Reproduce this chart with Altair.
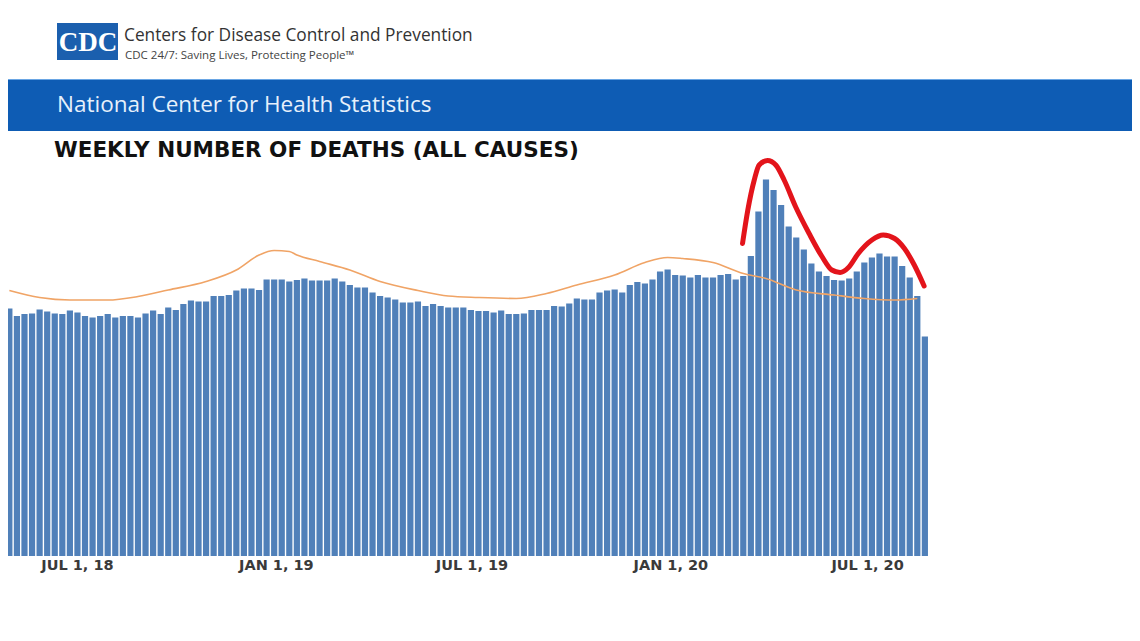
import altair as alt
import pandas as pd
import numpy as np

# ---- data ----
first_week = "2018-04-29"  # week index 0
weekly_deaths = [
    49500, 48000, 48400, 48500, 49300, 48900, 48500, 48400, 49100, 48700,
    48000, 47700, 48000, 48400, 47700, 48000, 48000, 47700, 48500, 49100,
    48400, 49700, 49200, 50400, 51100, 50900, 50900, 52000, 52000, 52200,
    53100, 53500, 53500, 53200, 55300, 55300, 55300, 54900, 55200, 55500,
    55100, 55100, 55100, 55500, 54900, 54200, 53700, 53700, 52700, 52000,
    51700, 51300, 50700, 50700, 50900, 50000, 50400, 50000, 49700, 49700,
    49700, 49200, 49000, 49000, 48700, 49100, 48400, 48400, 48500, 49200,
    49200, 49200, 50000, 49900, 50500, 51500, 51300, 51300, 52700, 53100,
    53300, 52700, 54200, 54800, 54500, 55300, 56900, 57300, 56200, 56100,
    55700, 56200, 55700, 55700, 56200, 56400, 55300, 56000, 60000, 68900,
    75300, 73200, 70200, 65900, 63700, 61300, 58500, 56900, 56000, 55200,
    55100, 55500, 56900, 58700, 59700, 60500, 59900, 59900, 58000, 55700,
    52000, 43900,
]
expected_weeks = [0, 4, 8, 13, 17, 21, 26, 30, 33, 35, 37, 38, 41, 45, 49, 54,
                  58, 62, 67, 71, 75, 80, 84, 87, 89, 93, 97, 100, 104, 109,
                  113, 117, 120]
expected_deaths = [53100, 51700, 51200, 51200, 51900, 53200, 54900, 57200,
                   60200, 61100, 60900, 60200, 58900, 57200, 54900, 53100,
                   52000, 51700, 51500, 52500, 54200, 56200, 58700, 59700,
                   59500, 58700, 56500, 55500, 53200, 52200, 51500, 51200,
                   51500]
annotation_weeks = [96.9, 97.6, 98.45, 99.1, 100.2, 101.3, 102.4, 103.9, 105.7,
                    107.4, 108.7, 109.8, 110.9, 112.2, 114.0, 115.5, 117.0,
                    118.3, 119.6, 120.9]
annotation_values = [62500, 69200, 75200, 78200, 79100, 78200, 75200, 69900,
                     64500, 59900, 57200, 56700, 57700, 60500, 63200, 64200,
                     63500, 61500, 58200, 54000]
tick_dates = ["2018-07-01", "2019-01-01", "2019-07-01", "2020-01-01", "2020-07-01"]
tick_labels = ["JUL 1, 18", "JAN 1, 19", "JUL 1, 19", "JAN 1, 20", "JUL 1, 20"]

header_title = "Centers for Disease Control and Prevention"
header_sub = "CDC 24/7: Saving Lives, Protecting People\u2122"
band_text = "National Center for Health Statistics"
chart_title = "WEEKLY NUMBER OF DEATHS (ALL CAUSES)"

# ---- tables ----
start = pd.Timestamp(first_week)


def week_date(idx):
    return start + pd.to_timedelta(np.asarray(idx, dtype=float) * 7, unit="D")


bars_df = pd.DataFrame({"date": week_date(range(len(weekly_deaths))),
                        "deaths": weekly_deaths})
exp_df = pd.DataFrame({"date": week_date(expected_weeks), "deaths": expected_deaths})
ann_df = pd.DataFrame({"date": week_date(annotation_weeks), "deaths": annotation_values,
                       "order": range(len(annotation_values))})
ticks_df = pd.DataFrame({"date": pd.to_datetime(tick_dates), "label": tick_labels})

W, H = 1124, 625
x_scale = alt.Scale(domain=[alt.DateTime(year=2018, month=5, date=2, hours=9),
                            alt.DateTime(year=2021, month=2, date=26)])
y_scale = alt.Scale(domain=[-15400, 109600], nice=False, zero=False)

X = alt.X("date:T", scale=x_scale, axis=None)
Y = alt.Y("deaths:Q", scale=y_scale, axis=None)

bars = alt.Chart(bars_df).mark_bar(width=6.2, color="#5080b9").encode(
    x=X, y=Y, y2=alt.datum(0))

expected = alt.Chart(exp_df).mark_line(color="#f0a466", strokeWidth=1.6,
                                       interpolate="monotone").encode(x=X, y=Y)

annotation = alt.Chart(ann_df).mark_line(color="#e3141b", strokeWidth=5,
                                         interpolate="monotone", strokeCap="round",
                                         strokeJoin="round").encode(
    x=X, y=Y, order="order:Q")

ticks = alt.Chart(ticks_df).mark_text(font="DejaVu Sans", fontWeight="bold", fontSize=14.5,
                                      color="#3a3a3a", baseline="middle").encode(
    x=X, y=alt.value(558), text="label:N")


def one(text):
    return pd.DataFrame({"t": [text]})


band = alt.Chart(one("band")).mark_rect(color="#0e5cb4").encode(
    x=alt.value(-8), x2=alt.value(W + 8), y=alt.value(72), y2=alt.value(123))
band_line = alt.Chart(one("line")).mark_rect(color="#6aa6e4").encode(
    x=alt.value(-8), x2=alt.value(W + 8), y=alt.value(71), y2=alt.value(73))
logo = alt.Chart(one("logo")).mark_rect(color="#1b5fae").encode(
    x=alt.value(49), x2=alt.value(110), y=alt.value(15), y2=alt.value(52))
logo_text = alt.Chart(one("CDC")).mark_text(font="Liberation Serif", fontWeight="bold",
                                            fontSize=27, color="white", align="center",
                                            baseline="middle").encode(
    x=alt.value(80), y=alt.value(35), text="t:N")
h_title = alt.Chart(one(header_title)).mark_text(font="Open Sans", fontSize=17.3,
                                                 color="#333333", align="left",
                                                 baseline="alphabetic").encode(
    x=alt.value(116), y=alt.value(33), text="t:N")
h_sub = alt.Chart(one(header_sub)).mark_text(font="Open Sans", fontSize=11.5,
                                             color="#444444", align="left",
                                             baseline="alphabetic").encode(
    x=alt.value(117), y=alt.value(50.5), text="t:N")
b_text = alt.Chart(one(band_text)).mark_text(font="Open Sans", fontSize=22.5,
                                             color="#e6f0fb", align="left",
                                             baseline="middle").encode(
    x=alt.value(49), y=alt.value(97), text="t:N")
c_title = alt.Chart(one(chart_title)).mark_text(font="DejaVu Sans", fontWeight="bold",
                                                fontSize=21.5, color="#111111",
                                                align="left", baseline="middle").encode(
    x=alt.value(46), y=alt.value(143), text="t:N")

chart = alt.layer(
    band_line, band, logo, logo_text, h_title, h_sub, b_text, c_title,
    bars, expected, annotation, ticks,
).properties(
    width=W, height=H, padding=0,
    autosize=alt.AutoSizeParams(type="none"),
).configure_view(strokeWidth=0)

chart.save("out.html", embed_options={"renderer": "svg", "actions": False})
